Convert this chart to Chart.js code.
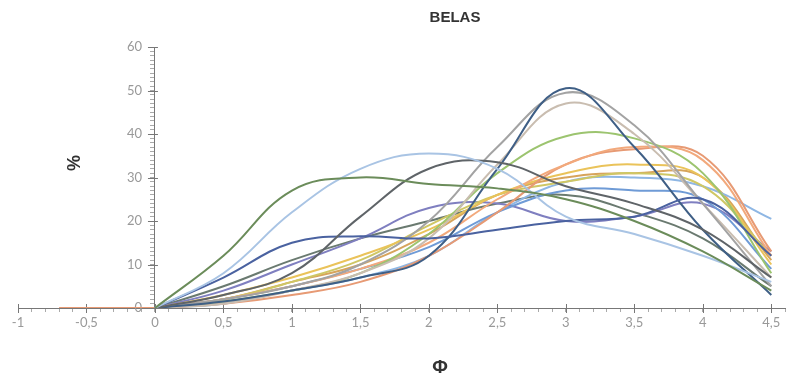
<!DOCTYPE html>
<html>
<head>
<meta charset="utf-8">
<script src="https://cdn.jsdelivr.net/npm/chart.js@4"></script>
<style>
  body { margin: 0; background: #fff; }
  #wrap { width: 796px; height: 383px; }
</style>
</head>
<body>
<div id="wrap"><canvas id="c"></canvas></div>
<script>
// phi positions of the measured points
var phi = [0, 0.5, 1, 1.5, 2, 2.5, 3, 3.5, 4, 4.5];
var phiLead = [-0.7, -0.35];

// % per class, one array per sample
var s01 = [0, 12, 27, 30, 28.5, 27.5, 25, 20, 13, 4];
var s02 = [0, 8, 22, 32, 35.5, 32, 21, 17, 12, 6];
var s03 = [0, 3, 8, 21, 32, 33.5, 28, 24, 18, 7];
var s04 = [0, 7, 15, 16.5, 16, 18, 20, 21, 25, 12];
var s05 = [0, 1.5, 4, 7, 12, 32, 50.5, 37, 18, 3];
var s06 = [0, 2, 5, 10, 20, 37, 49.5, 42, 24, 5];
var s07 = [0, 1, 4, 8, 16, 33, 47, 40, 24, 7];
var s08 = [0, 1.5, 4, 8, 17, 31, 39.5, 39, 31, 8];
var s09 = [0, 2, 5, 9, 15, 25, 33, 37, 34, 12];
var s10 = [0, 1, 3, 6, 12, 22, 33, 36.5, 35, 13];
var s11 = [0, 3, 7, 12, 18, 26, 31, 33, 30, 10];
var s12 = [0, 2, 6, 11, 19, 26, 29, 31, 28, 12];
var s13 = [0, 2, 5, 9, 14, 22, 27, 27, 25, 9];
var s14 = [0, 4, 10, 16, 23, 24, 20, 21, 24, 13];
var s15 = [0, 1, 4, 7, 12, 22, 29, 30, 28, 20.5];
var s16 = [0, 5, 11, 16, 20, 24, 26, 22, 16, 5];
var s17 = [0, 2, 6, 10, 17, 26, 30, 31, 30, 11];
var lead10 = [0, 0];

var series = [s01, s02, s03, s04, s05, s06, s07, s08, s09, s10, s11, s12, s13, s14, s15, s16, s17];
var colors = ['#6b8c5a', '#a9c4e4', '#5f6468', '#4a62a0', '#3f5f86', '#a3a3a3', '#c9bdb0', '#9cc46f',
  '#f2a97c', '#e79a74', '#eac35a', '#cfc765', '#6f9bd6', '#7f7fc0', '#8fb7e4', '#6a7a70', '#d7a45c'];

var xTickLabels = ['-1', '-0,5', '0', '0,5', '1', '1,5', '2', '2,5', '3', '3,5', '4', '4,5'];
var yTickLabels = ['0', '10', '20', '30', '40', '50', '60'];

function toPoints(xs, ys) {
  return ys.map(function (v, i) { return { x: xs[i], y: v }; });
}

var datasets = series.map(function (s, i) {
  var pts = toPoints(phi, s);
  if (i === 9) pts = toPoints(phiLead, lead10).concat(pts);
  return {
    data: pts,
    borderColor: colors[i],
    pointRadius: 0,
    borderWidth: 2,
    tension: 0.4
  };
});

// major tick crosses and the titles, placed where they sit in the picture
var labelsPlugin = {
  id: 'labels',
  beforeDatasetsDraw: function (chart) {
    var ctx = chart.ctx, xs = chart.scales.x, ys = chart.scales.y;
    var x0 = xs.getPixelForValue(0), y0 = ys.getPixelForValue(0);
    ctx.save();
    ctx.strokeStyle = '#777';
    ctx.lineWidth = 1;
    ctx.beginPath();
    xTickLabels.forEach(function (t) {
      var px = Math.round(xs.getPixelForValue(parseFloat(t.replace(',', '.')))) + 0.5;
      ctx.moveTo(px, y0 - 4); ctx.lineTo(px, y0 + 5);
    });
    yTickLabels.forEach(function (t) {
      var py = Math.round(ys.getPixelForValue(parseFloat(t))) + 0.5;
      ctx.moveTo(x0 - 7, py); ctx.lineTo(x0 + 3, py);
    });
    ctx.stroke();
    ctx.restore();
  },
  afterDraw: function (chart) {
    var ctx = chart.ctx;
    ctx.save();
    ctx.fillStyle = '#333';
    ctx.textAlign = 'center';
    ctx.textBaseline = 'middle';
    ctx.font = 'bold 15px "Liberation Sans", Arial, sans-serif';
    ctx.fillText('BELAS', 455, 18);
    ctx.font = 'bold 19px "Liberation Sans", Arial, sans-serif';
    ctx.fillText('\u03A6', 440, 368);
    ctx.translate(75, 163);
    ctx.rotate(-Math.PI / 2);
    ctx.font = 'bold 18px "Liberation Sans", Arial, sans-serif';
    ctx.fillText('%', 0, 0);
    ctx.restore();
  }
};

new Chart(document.getElementById('c'), {
  type: 'line',
  data: { datasets: datasets },
  options: {
    responsive: true,
    maintainAspectRatio: false,
    animation: false,
    layout: { padding: { left: 18, right: 11, top: 47, bottom: 49.4 } },
    plugins: { legend: { display: false }, tooltip: { enabled: false } },
    scales: {
      x: {
        type: 'linear',
        min: -1,
        max: 4.6,
        grid: { drawOnChartArea: false, tickLength: 4, color: '#aaa' },
        border: { color: '#777' },
        ticks: {
          stepSize: 0.1,
          autoSkip: false,
          maxRotation: 0,
          maxTicksLimit: 100,
          color: '#999',
          font: { family: 'Lato', size: 13 },
          callback: function (v) {
            var k = Math.round(v * 10);
            return k % 5 ? '' : xTickLabels[(k + 10) / 5];
          }
        }
      },
      y: {
        position: { x: 0 },
        min: 0,
        max: 60,
        grid: { drawOnChartArea: false, tickLength: 4, color: '#aaa' },
        border: { color: '#777' },
        ticks: {
          stepSize: 1,
          autoSkip: false,
          maxTicksLimit: 100,
          color: '#999',
          font: { family: 'Lato', size: 13 },
          callback: function (v) {
            var k = Math.round(v);
            // trailing spaces keep the label clear of the axis line
            return k % 10 ? '' : yTickLabels[k / 10] + '\u2002\u2002';
          }
        }
      }
    }
  },
  plugins: [labelsPlugin]
});
</script>
</body>
</html>
